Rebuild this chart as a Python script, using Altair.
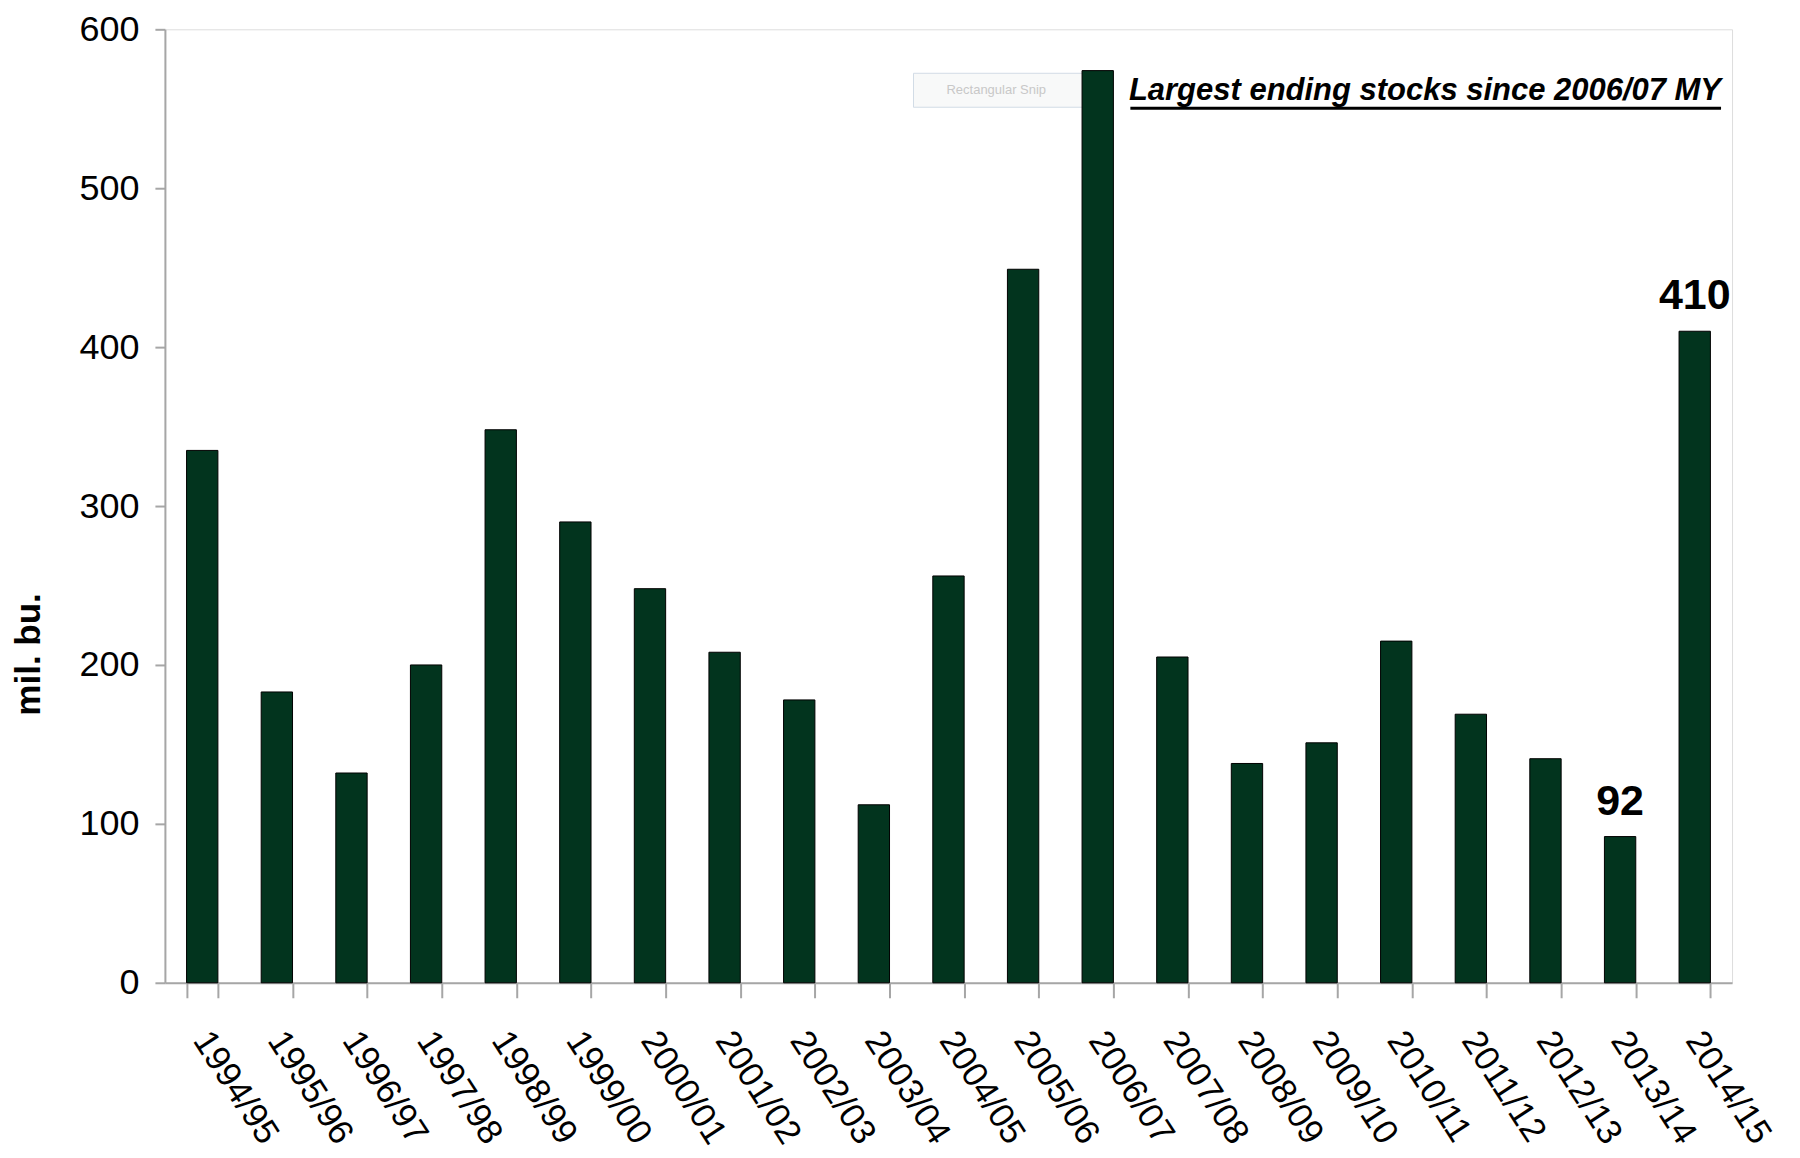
import altair as alt
import pandas as pd

years = ["1994/95", "1995/96", "1996/97", "1997/98", "1998/99", "1999/00", "2000/01",
         "2001/02", "2002/03", "2003/04", "2004/05", "2005/06", "2006/07", "2007/08",
         "2008/09", "2009/10", "2010/11", "2011/12", "2012/13", "2013/14", "2014/15"]
stocks = [335, 183, 132, 200, 348, 290, 248, 208, 178, 112, 256, 449, 574, 205,
          138, 151, 215, 169, 141, 92, 410]
labelled_years = ["2013/14", "2014/15"]
labelled_values = [92, 410]
note_text = "Largest ending stocks since 2006/07 MY"
snip_text = "Rectangular Snip"
y_title = "mil. bu."

FONT = "Liberation Sans, Arial, sans-serif"

df = pd.DataFrame({"year": years, "stocks": stocks})
lab = pd.DataFrame({"year": labelled_years, "stocks": labelled_values})

W, H = 1568, 954

x_enc = alt.X("year:N", sort=years,
              scale=alt.Scale(paddingInner=0.58, paddingOuter=0.29),
              axis=alt.Axis(title=None, labelAngle=57, labelAlign="left", labelBaseline="top",
                            labelFont=FONT, labelFontSize=35, labelColor="black",
                            labelPadding=27, labelOffset=13, tickBand="extent", tickSize=15,
                            tickColor="#A6A6A6", domainColor="#A6A6A6", domainWidth=2,
                            tickWidth=2, labelOverlap=False))
y_enc = alt.Y("stocks:Q", scale=alt.Scale(domain=[0, 600], nice=False),
              axis=alt.Axis(title=y_title, values=[0, 100, 200, 300, 400, 500, 600],
                            grid=False, labelFont=FONT, labelFontSize=36, labelColor="black",
                            labelPadding=16, tickSize=10, tickColor="#A6A6A6", tickWidth=2,
                            domainColor="#A6A6A6", domainWidth=2,
                            titleFont=FONT, titleFontSize=35,
                            titleFontWeight="bold", titleColor="black", titleAngle=270,
                            titleX=-136, titleY=625, titleAlign="center",
                            titleBaseline="middle"))

snip_box = alt.Chart(pd.DataFrame({"t": [snip_text]})).mark_rect(
    fill="#E4E6E8", fillOpacity=0.25, stroke="#D2DCE6", strokeWidth=1).encode(
    x=alt.value(749), x2=alt.value(930), y=alt.value(44), y2=alt.value(78))

bars = alt.Chart(df).mark_bar(color="#02341E", stroke="black", strokeWidth=1).encode(
    x=x_enc, y=y_enc)

snip = alt.Chart(pd.DataFrame({"t": [snip_text]})).mark_text(
    font=FONT, fontSize=13, color="#C8C8C8", align="left", baseline="middle").encode(
    x=alt.value(782), y=alt.value(61), text="t:N")

labels = alt.Chart(lab).mark_text(font=FONT, fontSize=43, fontWeight="bold", color="black",
                                  baseline="alphabetic", dy=-22).encode(
    x=alt.X("year:N", sort=years), y="stocks:Q", text="stocks:Q")

note = alt.Chart(pd.DataFrame({"t": [note_text]})).mark_text(
    font=FONT, fontSize=31, fontWeight="bold", fontStyle="italic", color="black",
    align="right", baseline="alphabetic").encode(
    x=alt.value(1557), y=alt.value(71), text="t:N")

underline = alt.Chart(pd.DataFrame({"t": [note_text]})).mark_rule(
    color="black", strokeWidth=3).encode(
    x=alt.value(966), x2=alt.value(1557), y=alt.value(79))

chart = alt.layer(snip_box, bars, snip, labels, note, underline).properties(
    width=W, height=H,
    autosize=alt.AutoSizeParams(type="none"),
    padding={"left": 157, "top": 21, "right": 60, "bottom": 166},
).configure_view(fill="#D9D9D9", stroke=None).configure(background="white")

chart.save("out.html", embed_options={"renderer": "svg", "actions": False})
